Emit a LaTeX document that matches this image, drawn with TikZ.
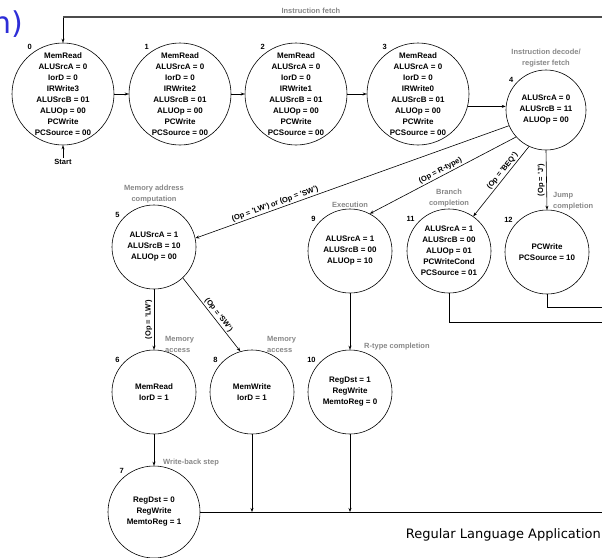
\documentclass[tikz,border=0pt]{standalone}
\usepackage{fontspec}
\setmainfont{Liberation Sans}
\newfontfamily\handfont{DejaVu Sans}
\usetikzlibrary{arrows.meta}
\definecolor{titleblue}{RGB}{45,45,215}
\definecolor{notegray}{RGB}{135,135,135}
\begin{document}
\begin{tikzpicture}[x=1pt, y=-1pt, >={Stealth[length=4pt,width=3pt]},
	state/.style={circle, draw, line width=0.6pt, inner sep=0pt, align=center,
		font=\fontsize{8}{11}\selectfont\bfseries},
	big/.style={state, minimum size=102pt},
	small/.style={state, minimum size=84pt},
	num/.style={font=\fontsize{7.5}{9}\selectfont\bfseries, inner sep=1pt, label distance=1pt},
	note/.style={font=\fontsize{7.5}{11}\selectfont\bfseries, text=notegray, align=center, inner sep=1pt},
	cond/.style={font=\fontsize{7.5}{9}\selectfont\bfseries, inner sep=1.5pt},
	arr/.style={->, line width=0.6pt},
	back/.style={line width=0.6pt}]
	\useasboundingbox (0,0) rectangle (602,557);
	% title fragment and footer
	\node[font=\handfont\fontsize{30}{30}\selectfont, text=titleblue, anchor=east, inner sep=0pt] (title) at (23,24) {n)};
	\node[font=\handfont\fontsize{13}{15}\selectfont, anchor=east, inner sep=0pt] (footer) at (601,535) {Regular Language Application};
	% instruction fetch
	\node[big, label={[num]125:0}] (s0) at (63,94) {MemRead\\ALUSrcA = 0\\IorD = 0\\IRWrite3\\ALUSrcB = 01\\ALUOp = 00\\PCWrite\\PCSource = 00};
	\node[big, label={[num]125:1}] (s1) at (180,94) {MemRead\\ALUSrcA = 0\\IorD = 0\\IRWrite2\\ALUSrcB = 01\\ALUOp = 00\\PCWrite\\PCSource = 00};
	\node[big, label={[num]125:2}] (s2) at (296,94) {MemRead\\ALUSrcA = 0\\IorD = 0\\IRWrite1\\ALUSrcB = 01\\ALUOp = 00\\PCWrite\\PCSource = 00};
	\node[big, label={[num]125:3}] (s3) at (418,94) {MemRead\\ALUSrcA = 0\\IorD = 0\\IRWrite0\\ALUSrcB = 01\\ALUOp = 00\\PCWrite\\PCSource = 00};
	% decode
	\node[state, minimum size=80pt, label={[num]140:4},
		label={[note, label distance=1pt]90:Instruction decode/\\register fetch}] (s4) at (546,110) {ALUSrcA = 0\\ALUSrcB = 11\\ALUOp = 00};
	% execution states
	\node[small, label={[num]140:5},
		label={[note]90:Memory address\\computation}] (s5) at (154,247) {ALUSrcA = 1\\ALUSrcB = 10\\ALUOp = 00};
	\node[small, label={[num]140:9}, label={[note]90:Execution}] (s9) at (350,251) {ALUSrcA = 1\\ALUSrcB = 00\\ALUOp = 10};
	\node[small, label={[num]140:11},
		label={[note]90:Branch\\completion}] (s11) at (449,251) {ALUSrcA = 1\\ALUSrcB = 00\\ALUOp = 01\\PCWriteCond\\PCSource = 01};
	\node[small, label={[num]140:12}] (s12) at (547,252) {PCWrite\\PCSource = 10};
	% memory and completion states
	\node[small, label={[num]140:6}] (s6) at (154,392) {MemRead\\IorD = 1};
	\node[small, label={[num]140:8}] (s8) at (252,392) {MemWrite\\IorD = 1};
	\node[small, label={[num]140:10}] (s10) at (350,392) {RegDst = 1\\RegWrite\\MemtoReg = 0};
	\node[state, minimum size=92pt, label={[num]128:7}] (s7) at (154,512) {RegDst = 0\\RegWrite\\MemtoReg = 1};
	% step notes
	\node[note, align=left, anchor=south west] (njump) at ([xshift=5pt,yshift=-2pt]s12.north) {Jump\\completion};
	\node[note, align=left, anchor=south west] (nread) at ([xshift=10pt,yshift=-4pt]s6.north) {Memory\\access};
	\node[note, align=left, anchor=south west] (nwrite) at ([xshift=14pt,yshift=-4pt]s8.north) {Memory\\access};
	\node[note, anchor=south west] (nrtype) at ([xshift=13pt,yshift=-2pt]s10.north) {R-type completion};
	\node[note, anchor=south west] (nback) at ([xshift=8pt,yshift=-2pt]s7.north) {Write-back step};
	% start
	\coordinate (start) at (63,158);
	\node[num, below] (startlbl) at (start) {Start};
	\draw[arr] (start) -- (s0.south);
	% fetch chain
	\draw[arr] (s0) -- (s1);
	\draw[arr] (s1) -- (s2);
	\draw[arr] (s2) -- (s3);
	\draw[arr] (s3.-14) -- (s3.-14 -| s4.west);
	% dispatch from decode
	\draw[arr] (s4.203) -- (s5.12) node[cond, pos=0.74, sloped, above] {(Op = 'LW') or (Op = 'SW')};
	\draw[arr] (s4.222) -- (s9.62) node[cond, pos=0.5, sloped, above] {(Op = R-type)};
	\draw[arr] (s4.245) -- (s11.55) node[cond, pos=0.4, sloped, above] {(Op = 'BEQ')};
	\draw[arr] (s4.south) -- (s12.north) node[cond, midway, rotate=90, above] {(Op = 'J')};
	\draw[arr] (s5.south) -- (s6.north) node[cond, midway, rotate=90, above] {(Op = 'LW')};
	\draw[arr] (s5.-47) -- (s8.106) node[cond, pos=0.55, sloped, above] {(Op = 'SW')};
	\draw[arr] (s6) -- (s7);
	\draw[arr] (s9) -- (s10);
	% back to fetch
	\coordinate (top) at (602,17);
	\coordinate (bot) at (602,512);
	\coordinate (brq) at (602,322);
	\coordinate (jmp) at (602,307);
	\draw[line width=1.4pt, black!70] (top) -- (top -| s0.north) node[note, pos=0.54, above=2pt] {Instruction fetch};
	\draw[arr] ([yshift=-0.7pt]top -| s0.north) -- (s0.north);
	\draw[back] (s7.east) -- (bot);
	\draw[arr] (s8.south) -- (s8.south |- bot);
	\draw[arr] (s10.south) -- (s10.south |- bot);
	\draw[back] (s11.south) |- (brq);
	\draw[back] (s12.south) |- (jmp);
\end{tikzpicture}
\end{document}
